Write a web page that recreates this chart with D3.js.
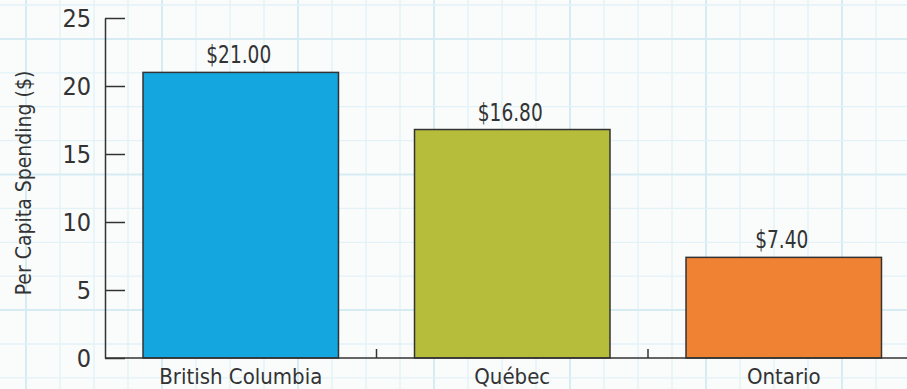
<!DOCTYPE html>
<html>
<head>
<meta charset="utf-8">
<script src="https://cdn.jsdelivr.net/npm/d3@7"></script>
<style>
  html, body { margin: 0; padding: 0; background: #fafcfc; }
  svg { display: block; }
  text { font-family: "Liberation Sans Narrow", "DejaVu Sans Condensed", "Arial Narrow", sans-serif; fill: #333; }
</style>
</head>
<body>
<svg id="chart" width="907" height="389"></svg>
<script>
// Per capita spending by province
const provinces = ["British Columbia", "Québec", "Ontario"];
const spending = [21.00, 16.80, 7.40];
const barColors = ["#14a7df", "#b5bd3a", "#f08233"];
const yTicks = [0, 5, 10, 15, 20, 25];
const yTitle = "Per Capita Spending ($)";

const W = 907, H = 389;
const svg = d3.select("#chart");

// graph-paper background
const cell = 34, cellY = 33.9;
const grid = svg.append("g");
for (let i = 0, gx = 26; gx < W; i++, gx += cell) {
  grid.append("line").attr("x1", gx).attr("x2", gx).attr("y1", 0).attr("y2", H)
    .attr("stroke", i % 4 === 0 ? "#d6ecf2" : "#e2f2f6")
    .attr("stroke-width", i % 4 === 0 ? 2 : 1.3);
}
for (let j = 0, gy = 5; gy < H; j++, gy += cellY) {
  grid.append("line").attr("x1", 0).attr("x2", W).attr("y1", gy).attr("y2", gy)
    .attr("stroke", j % 4 === 1 ? "#d6ecf2" : "#e2f2f6")
    .attr("stroke-width", j % 4 === 1 ? 2 : 1.3);
}

const plotLeft = 105, plotBase = 358, plotTop = 18;
const step = 271.5;

const x = d3.scaleBand()
  .domain(provinces)
  .range([plotLeft, plotLeft + step * provinces.length])
  .paddingInner(0.28)
  .paddingOuter(0.14);

const y = d3.scaleLinear().domain([0, 25]).range([plotBase, plotTop]);

// bars
svg.append("g").selectAll("rect")
  .data(provinces)
  .join("rect")
  .attr("x", d => x(d))
  .attr("y", (d, i) => y(spending[i]))
  .attr("width", x.bandwidth())
  .attr("height", (d, i) => y(0) - y(spending[i]))
  .attr("fill", (d, i) => barColors[i])
  .attr("stroke", "#333")
  .attr("stroke-width", 1.5);

// value labels (slightly condensed)
svg.append("g").selectAll("text")
  .data(provinces)
  .join("text")
  .attr("transform", (d, i) =>
    `translate(${x(d) + x.bandwidth() / 2 - 2},${y(spending[i]) - 9}) scale(0.86,1)`)
  .attr("text-anchor", "middle")
  .style("font-size", "24px")
  .text((d, i) => "$" + spending[i].toFixed(2));

// y axis
const yAxis = svg.append("g")
  .attr("transform", `translate(${plotLeft},0)`)
  .call(d3.axisLeft(y).tickValues(yTicks).tickSize(-20).tickSizeOuter(0).tickPadding(14));
yAxis.selectAll("path, line").attr("stroke", "#333").attr("stroke-width", 1.5);
yAxis.selectAll("text").style("font-size", "25px").attr("fill", "#333");

// x axis
const xAxis = svg.append("g")
  .attr("transform", `translate(0,${plotBase})`)
  .call(d3.axisBottom(x).tickSize(0).tickSizeOuter(0).tickPadding(10));
xAxis.select(".domain").attr("d", `M${plotLeft},0H${W}`).attr("stroke", "#333").attr("stroke-width", 1.5);
xAxis.selectAll("text").style("font-size", "22px").attr("fill", "#333");

// separators between categories
svg.append("g").selectAll("line")
  .data(provinces.slice(0, -1))
  .join("line")
  .attr("x1", d => x(d) + x.bandwidth() + x.step() * 0.14)
  .attr("x2", d => x(d) + x.bandwidth() + x.step() * 0.14)
  .attr("y1", plotBase).attr("y2", plotBase - 9)
  .attr("stroke", "#333").attr("stroke-width", 1.5);

// y axis title
svg.append("text")
  .attr("transform", `translate(31,183) rotate(-90)`)
  .attr("text-anchor", "middle")
  .style("font-size", "21px")
  .text(yTitle);
</script>
</body>
</html>
